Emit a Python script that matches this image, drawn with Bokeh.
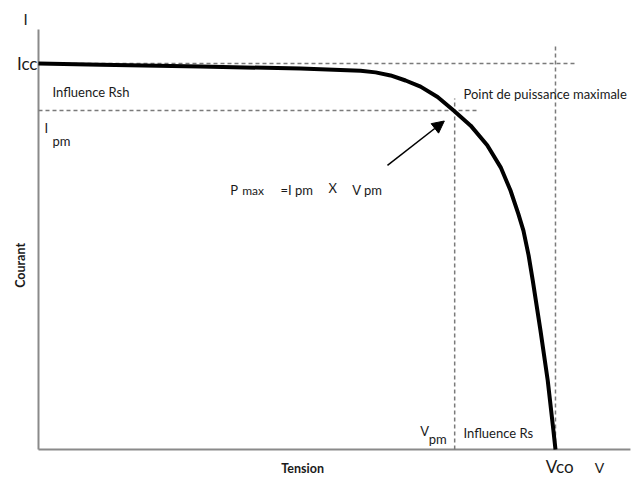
from bokeh.plotting import figure
from bokeh.models import Range1d, Label, Arrow, NormalHead
from bokeh.embed import file_html
from bokeh.resources import INLINE

# I-V characteristic of a photovoltaic cell, normalised so that Vco = 1 and Icc = 1
voltage = [0.0, 0.120, 0.313, 0.507, 0.584, 0.623, 0.652, 0.681, 0.710, 0.739,
           0.772, 0.803, 0.836, 0.868, 0.894, 0.913, 0.928, 0.938, 0.948, 0.956,
           0.971, 0.985, 0.996, 1.0]
current = [1.0, 0.997, 0.992, 0.987, 0.983, 0.981, 0.977, 0.969, 0.956, 0.940,
           0.913, 0.878, 0.839, 0.788, 0.731, 0.671, 0.611, 0.567, 0.503, 0.438,
           0.308, 0.179, 0.049, 0.0]

icc = 1.0        # short-circuit current
vco = 1.0        # open-circuit voltage
ipm = 0.878      # current at the maximum power point
vpm = 0.805      # voltage at the maximum power point

FONT = "Lato"
INK = "#1a1a1a"
AXIS_GREY = "#8a8a8a"
DASH_GREY = "#7a7a7a"

p = figure(width=633, height=478, output_backend="svg", toolbar_location=None,
           x_range=Range1d(-0.0735, 1.1509), y_range=Range1d(-0.0751, 1.1632),
           min_border=0)
p.xaxis.visible = False
p.yaxis.visible = False
p.xgrid.visible = False
p.ygrid.visible = False
p.outline_line_color = None
p.background_fill_color = "white"
p.border_fill_color = "white"

# axes drawn as plain lines
p.line([0, 0], [0, 1.088], line_color=AXIS_GREY, line_width=2)
p.line([0, 1.145], [0, 0], line_color=AXIS_GREY, line_width=2)

# guide lines
dash = dict(line_color=DASH_GREY, line_width=1.5, line_dash="4 3")
p.line([0, 1.039], [icc, icc], **dash)
p.line([vco, vco], [0, 1.047], **dash)
p.line([0, 0.851], [ipm, ipm], **dash)
p.line([vpm, vpm], [0, 0.909], **dash)

# the characteristic curve
p.line(voltage, current, line_color="black", line_width=4, line_join="round")

# arrow pointing at the maximum power point
p.add_layout(Arrow(end=NormalHead(size=12, fill_color="black", line_color="black"),
                   x_start=0.675, y_start=0.736, x_end=vpm - 0.02, y_end=ipm - 0.027,
                   line_color="black", line_width=1.5))


def label(x, y, text, size="13px", align="left", baseline="middle", style="normal", angle=0.0):
    p.add_layout(Label(x=x, y=y, text=text, text_font=FONT, text_font_size=size,
                       text_color=INK, text_align=align, text_baseline=baseline,
                       text_font_style=style, angle=angle))


label(-0.025, 1.114, "I", size="15px", align="center")
label(-0.002, icc, "Icc", size="17px", align="right")
label(0.027, 0.927, "Influence Rsh", size="13px")
label(0.015, 0.832, "I", size="13px", align="center")
label(0.027, 0.800, "pm", size="13px")
label(0.822, 0.922, "Point de puissance maximale", size="13px")

# P max = I pm x V pm, all pieces on a common baseline
label(0.371, 0.671, "P", size="13px", baseline="alphabetic")
label(0.394, 0.671, "max", size="12px", baseline="alphabetic")
label(0.468, 0.671, "=I pm", size="13px", baseline="alphabetic")
label(0.561, 0.677, "X", size="13px", baseline="alphabetic")
label(0.607, 0.671, "V pm", size="13px", baseline="alphabetic")

label(0.747, 0.047, "V", size="13px", align="center")
label(0.755, 0.028, "pm", size="13px")
label(0.822, 0.044, "Influence Rs", size="13px")
label(1.008, -0.044, "Vco", size="17px", align="center")
label(1.085, -0.047, "V", size="14px", align="center")

label(0.511, -0.049, "Tension", size="12.5px", align="center", style="bold")
label(-0.035, 0.477, "Courant", size="12.5px", align="center", style="bold", angle=1.5708)

open("out.html", "w").write(file_html(p, INLINE))
